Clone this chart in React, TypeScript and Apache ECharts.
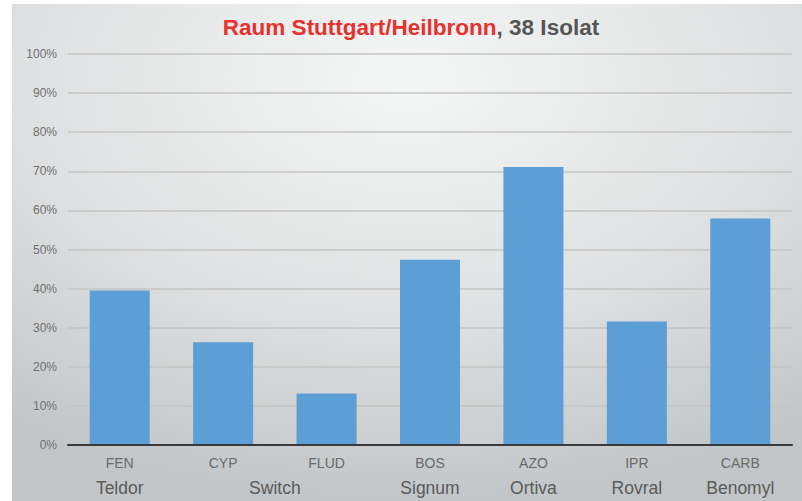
import React, { useEffect, useRef } from "react";
import * as echarts from "echarts";

const codes = ["FEN", "CYP", "FLUD", "BOS", "AZO", "IPR", "CARB"];
const values = [39.5, 26.3, 13.2, 47.4, 71.1, 31.6, 57.9];
const productSlots = ["", "Teldor", "", "", "Switch", "", "", "Signum", "", "Ortiva", "", "Rovral", "", "Benomyl", ""];
const titleRed = "Raum Stuttgart/Heilbronn";
const titleGray = ", 38 Isolat";

export default function App() {
  const ref = useRef<HTMLDivElement>(null);
  useEffect(() => {
    document.body.style.margin = "0";
    const chart = echarts.init(ref.current!, undefined, { renderer: "svg" });
    chart.setOption({
      animation: false,
      graphic: [
        {
          type: "rect",
          z: -10,
          silent: true,
          shape: { x: 12, y: 4, width: 790, height: 497 },
          style: {
            fill: new echarts.graphic.RadialGradient(0.5, 0.15, 0.85, [
              { offset: 0, color: "#f5f6f6" },
              { offset: 0.55, color: "#dfe1e2" },
              { offset: 1, color: "#c3c6c8" },
            ]),
          },
        },
        {
          type: "text",
          x: 411,
          y: 16,
          style: {
            align: "center",
            verticalAlign: "top",
            rich: {
              r: { fill: "#e8302d", fontSize: 22.5, fontWeight: "bold", fontFamily: "Liberation Sans" },
              g: { fill: "#555555", fontSize: 22.5, fontWeight: "bold", fontFamily: "Liberation Sans" },
            },
            text: `{r|${titleRed}}{g|${titleGray}}`,
          },
        },
      ],
      grid: { left: 68, right: 10, top: 54, bottom: 56, containLabel: false },
      xAxis: [
        {
          type: "category",
          data: codes,
          axisLine: { show: true, lineStyle: { color: "#3a3a3a", width: 2 } },
          axisTick: { show: false },
          axisLabel: { color: "#6a6a6a", fontSize: 14, margin: 11, fontFamily: "Liberation Sans" },
          z: 5,
        },
        {
          type: "category",
          data: productSlots,
          boundaryGap: false,
          position: "bottom",
          axisLine: { show: false },
          axisTick: { show: false },
          axisLabel: { color: "#5a5a5a", fontSize: 17.5, margin: 34, interval: 0, fontFamily: "Liberation Sans" },
        },
      ],
      yAxis: {
        type: "value",
        min: 0,
        max: 100,
        interval: 10,
        axisLine: { show: false },
        axisTick: { show: false },
        axisLabel: { formatter: "{value}%", color: "#707070", fontSize: 12, margin: 11, fontFamily: "Liberation Sans" },
        splitLine: { lineStyle: { color: "#c4c4c4", width: 1.5 } },
      },
      series: [
        {
          type: "bar",
          data: values,
          barWidth: 60,
          itemStyle: { color: "#5c9ed6" },
          z: 3,
        },
      ],
    });
    return () => chart.dispose();
  }, []);
  return <div ref={ref} style={{ width: 802, height: 501 }} />;
}
